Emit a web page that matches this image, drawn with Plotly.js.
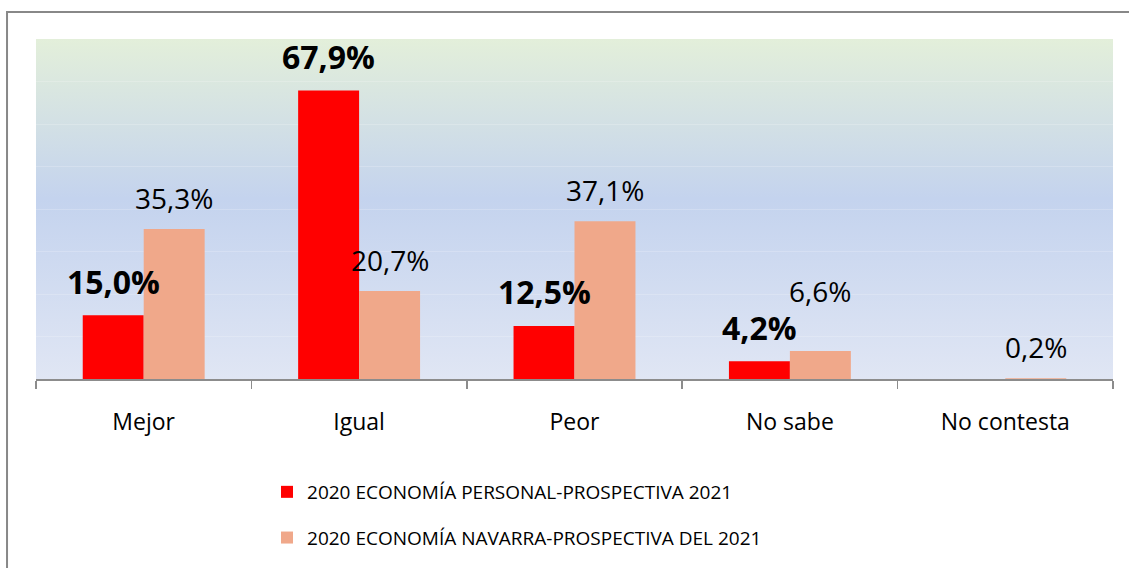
<!DOCTYPE html>
<html>
<head>
<meta charset="utf-8">
<script src="https://cdn.plot.ly/plotly-3.0.1.min.js"></script>
<style>
html,body{margin:0;padding:0;background:#fff;}
#chart{width:1129px;height:568px;}
</style>
</head>
<body>
<div id="chart"></div>
<script>
// ---- data ----
var categories = ["Mejor", "Igual", "Peor", "No sabe", "No contesta"];
var seriesNames = [
  "2020 ECONOMÍA PERSONAL-PROSPECTIVA 2021",
  "2020 ECONOMÍA NAVARRA-PROSPECTIVA DEL 2021"
];
var personal = [15.0, 67.9, 12.5, 4.2, null];
var navarra  = [35.3, 20.7, 37.1, 6.6, 0.2];

// ---- styles ----
var colors = ["#FF0000", "#F0A88A"];
var FONT = "'Open Sans', 'Noto Sans', sans-serif";
var liftPersonal = [34, 34, 34, 34, 34];
var liftNavarra  = [31, 31, 31, 60, 31];

function fmt(v){ return v.toFixed(1).replace(".", ",") + "%"; }

var traces = [
  {type:"bar", name:seriesNames[0], x:categories, y:personal,
   marker:{color:colors[0]}, legendgroup:"a", hoverinfo:"x+y"},
  {type:"bar", name:seriesNames[1], x:categories, y:navarra,
   marker:{color:colors[1]}, legendgroup:"b", hoverinfo:"x+y"}
];

var annotations = [];
function addLabels(vals, shiftX, lifts, bold, size){
  vals.forEach(function(v, i){
    if (v === null || v === undefined) return;
    annotations.push({
      x: categories[i], y: v, xref:"x", yref:"y",
      text: bold ? "<b>" + fmt(v) + "</b>" : fmt(v),
      showarrow:false, xshift: shiftX, yshift: lifts[i],
      xanchor:"center", yanchor:"middle",
      font:{family:FONT, size:size, color:"#000"}
    });
  });
}
addLabels(personal, -30.5, liftPersonal, true, 32);
addLabels(navarra, 30.5, liftNavarra, false, 28);

var grad = 'data:image/svg+xml;utf8,' + encodeURIComponent(
  '<svg xmlns="http://www.w3.org/2000/svg" width="100" height="100" preserveAspectRatio="none">' +
  '<defs><linearGradient id="g" x1="0" y1="0" x2="0" y2="1">' +
  '<stop offset="0" stop-color="#E3EFDA"/>' +
  '<stop offset="0.47" stop-color="#C4D3EE"/>' +
  '<stop offset="1" stop-color="#E0E6F4"/>' +
  '</linearGradient></defs><rect width="100" height="100" fill="url(#g)"/></svg>');

var layout = {
  width:1129, height:568,
  margin:{l:36, r:16, t:39, b:188},
  paper_bgcolor:"#FFFFFF",
  plot_bgcolor:"rgba(0,0,0,0)",
  barmode:"group", bargap:0.434, bargroupgap:0,
  font:{family:FONT, color:"#000"},
  xaxis:{
    type:"category", showline:true, linecolor:"#8C8C8C", linewidth:1.5,
    ticks:"outside", tickson:"boundaries", ticklen:8, tickcolor:"#8C8C8C", tickwidth:1.5,
    tickfont:{family:FONT, size:23, color:"#000"}, ticklabelstandoff:22,
    showgrid:false, zeroline:false, fixedrange:true, automargin:false
  },
  yaxis:{
    range:[0,80], dtick:10, showgrid:true, gridcolor:"rgba(255,255,255,0.2)", gridwidth:1,
    showticklabels:false, ticks:"", zeroline:false, showline:false, fixedrange:true, automargin:false
  },
  showlegend:true,
  legend:{
    orientation:"v", x:0.2145, xanchor:"left", y:-0.2727, yanchor:"top",
    font:{family:FONT, size:19, color:"#000"}, bgcolor:"rgba(0,0,0,0)",
    traceorder:"grouped", tracegroupgap:18, itemclick:false, itemdoubleclick:false
  },
  images:[{source:grad, xref:"paper", yref:"paper", x:0, y:1, sizex:1, sizey:1,
           xanchor:"left", yanchor:"top", sizing:"stretch", layer:"below"}],
  shapes:[{type:"rect", xref:"paper", yref:"paper",
           x0:-0.0269, x1:1.05, y0:-0.7, y1:1.0792,
           line:{color:"#888888", width:2}, fillcolor:"rgba(0,0,0,0)", layer:"above"}],
  annotations:annotations
};

Plotly.newPlot("chart", traces, layout, {displayModeBar:false, staticPlot:true});
</script>
</body>
</html>
